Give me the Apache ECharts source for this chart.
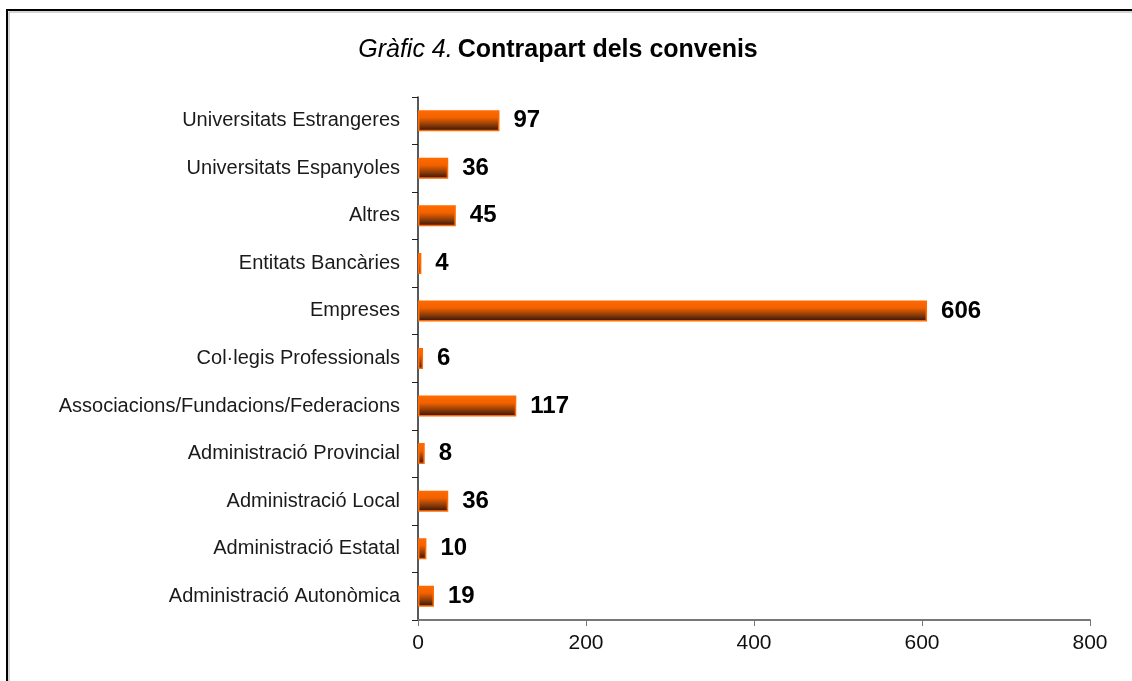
<!DOCTYPE html>
<html>
<head>
<meta charset="utf-8">
<script src="https://cdn.jsdelivr.net/npm/echarts@6/dist/echarts.min.js"></script>
<style>
  html, body { margin: 0; padding: 0; background: #fff; }
  #chart { width: 1132px; height: 681px; }
</style>
</head>
<body>
<div id="chart"></div>
<script>
// categories bottom-to-top (as ECharts draws a category y axis)
const categories = [
  'Administració Autonòmica',
  'Administració Estatal',
  'Administració Local',
  'Administració Provincial',
  'Associacions/Fundacions/Federacions',
  'Col·legis Professionals',
  'Empreses',
  'Entitats Bancàries',
  'Altres',
  'Universitats Espanyoles',
  'Universitats Estrangeres'
]
const values = [19, 10, 36, 8, 117, 6, 606, 4, 45, 36, 97]
const xTicks = [0, 200, 400, 600, 800]

const font = '"Liberation Sans", Arial, sans-serif'
const chart = echarts.init(document.getElementById('chart'))

chart.setOption({
  animation: false,
  backgroundColor: '#fff',
  textStyle: { fontFamily: font },
  title: {
    text: '{i|Gràfic 4.} {b|Contrapart dels convenis}',
    left: 553,
    textAlign: 'center',
    top: 33,
    textStyle: {
      fontWeight: 'normal',
      rich: {
        i: { fontSize: 25, fontStyle: 'italic', fontWeight: 'normal', color: '#000', fontFamily: font },
        b: { fontSize: 25, fontWeight: 'bold', color: '#000', fontFamily: font }
      }
    }
  },
  graphic: [
    {
      type: 'rect',
      shape: { x: 7, y: 10, width: 2000, height: 2000 },
      style: { fill: 'none', stroke: '#000', lineWidth: 2 },
      silent: true
    },
    {
      type: 'polyline',
      shape: { points: [[9, 2000], [9, 12], [2000, 12]] },
      style: { fill: 'none', stroke: '#aaa', lineWidth: 1 },
      silent: true
    }
  ],
  grid: { left: 418, right: 42, top: 97, bottom: 61, containLabel: false },
  xAxis: {
    type: 'value',
    min: xTicks[0],
    max: xTicks[xTicks.length - 1],
    interval: 200,
    axisLine: { show: true, lineStyle: { color: '#777', width: 2 } },
    axisTick: { show: true, length: 6, lineStyle: { color: '#777' } },
    axisLabel: { fontSize: 21, color: '#111', margin: 13 },
    splitLine: { show: false }
  },
  yAxis: {
    type: 'category',
    data: categories,
    axisLine: { show: true, lineStyle: { color: '#222', width: 1.5 } },
    axisTick: { show: true, length: 6, lineStyle: { color: '#222' } },
    axisLabel: { fontSize: 20, color: '#1a1a1a', margin: 18 }
  },
  series: [{
    type: 'bar',
    data: values,
    barWidth: 21,
    itemStyle: {
      color: new echarts.graphic.LinearGradient(0, 0, 0, 1, [
        { offset: 0, color: '#ff6a00' },
        { offset: 0.35, color: '#f26200' },
        { offset: 0.7, color: '#8a3a08' },
        { offset: 1, color: '#2a1205' }
      ]),
      borderColor: '#ff6a00',
      borderWidth: 1.5
    },
    label: {
      show: true,
      position: 'right',
      distance: 14,
      fontSize: 24,
      fontWeight: 'bold',
      color: '#000'
    }
  }]
})
</script>
</body>
</html>
